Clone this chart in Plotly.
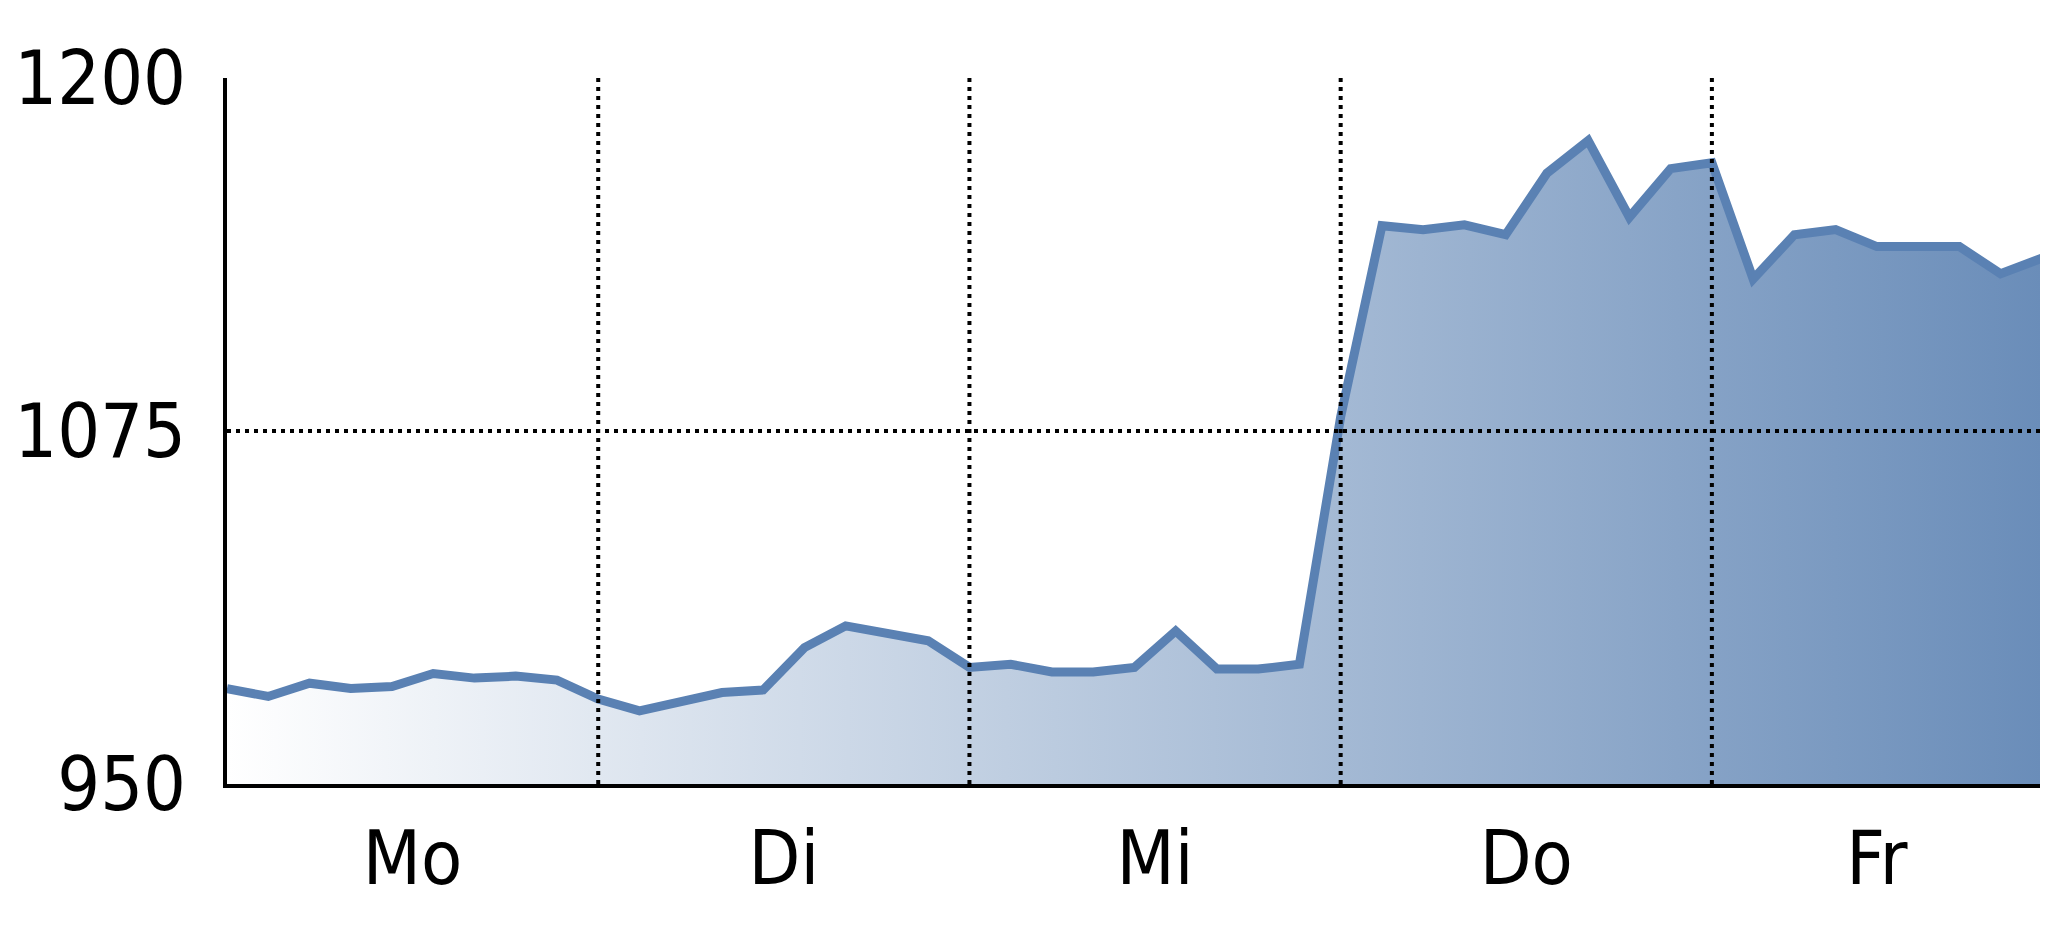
import plotly.graph_objects as go

# --- data ---
days = ["Mo", "Di", "Mi", "Do", "Fr"]
points_per_day = 9
values = [
    983.8, 981.0, 985.7, 983.8, 984.5, 989.1, 987.5, 988.2, 986.8,      # Mo
    980.1, 975.9, 979.5, 982.4, 983.3, 998.3, 1006.0, 1003.0, 1000.7,   # Di
    991.3, 992.4, 989.7, 989.7, 991.3, 1004.2, 990.7, 990.7, 992.4,     # Mi
    1080.0, 1147.7, 1146.3, 1148.0, 1144.5, 1166.3, 1177.8, 1150.7, 1167.9,  # Do
    1170.0, 1128.8, 1144.5, 1146.3, 1140.3, 1140.3, 1140.3, 1130.7, 1136.2,  # Fr
]
y_ticks = [950, 1075, 1200]
grid_y = [1075]

x = list(range(len(values)))
n = len(values)
day_bounds = [points_per_day * i for i in range(1, len(days))]
label_pos = []
for i in range(len(days)):
    start = points_per_day * i
    end = min(points_per_day * (i + 1), n - 1)
    label_pos.append((start + end) / 2)

FONT = "Liberation Sans Narrow, DejaVu Sans Condensed, Roboto Condensed, Arial Narrow, Liberation Sans, sans-serif"

fig = go.Figure(
    go.Scatter(
        x=x, y=values, mode="lines",
        line=dict(color="#5a81b3", width=9),
        fill="tozeroy",
        fillgradient=dict(type="horizontal",
                          colorscale=[[0, "#ffffff"], [1, "#6a8db9"]]),
        hoverinfo="skip",
    )
)

dash = "4px,5px"
shapes = []
for b in day_bounds:
    shapes.append(dict(type="line", xref="x", yref="paper", x0=b, x1=b, y0=0, y1=1,
                       line=dict(color="black", width=4, dash=dash), layer="above"))
for gy in grid_y:
    shapes.append(dict(type="line", xref="paper", yref="y", x0=0, x1=1, y0=gy, y1=gy,
                       line=dict(color="black", width=4, dash=dash), layer="above"))

fig.update_layout(
    width=2048, height=937,
    margin=dict(l=219, r=3, t=70, b=161, autoexpand=False),
    paper_bgcolor="white", plot_bgcolor="white",
    showlegend=False,
    font=dict(family=FONT, size=75, color="black"),
    shapes=shapes,
    xaxis=dict(range=[0, n - 1 + 0.27], tickmode="array", tickvals=label_pos, ticktext=days,
               showgrid=False, zeroline=False, showline=True, linecolor="black", linewidth=4,
               ticks="", ticklabelstandoff=6, layer="above traces", automargin=False,
               tickfont=dict(family=FONT, size=75, color="black")),
    yaxis=dict(range=[950, 1200], tickmode="array", tickvals=y_ticks,
               ticktext=[str(v) for v in y_ticks],
               showgrid=False, zeroline=False, showline=True, linecolor="black", linewidth=4,
               ticks="", ticklabelstandoff=22, layer="above traces", automargin=False,
               tickfont=dict(family=FONT, size=75, color="black")),
)

fig.write_html("out.html")
